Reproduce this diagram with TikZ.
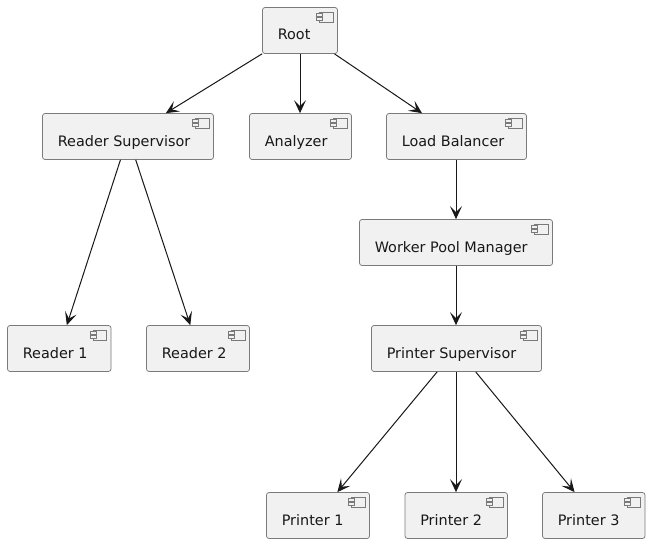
\documentclass[tikz,border=0pt]{standalone}
\usepackage{fontspec}
\setmainfont{DejaVu Sans}
\usetikzlibrary{arrows.meta}
\definecolor{ink}{HTML}{181818}
\definecolor{edge}{HTML}{7A7A7A}
\definecolor{boxfill}{HTML}{F1F1F1}
\tikzset{
  x=1pt,y=-1pt,
  compbox/.style={draw=edge,line width=0.75pt,fill=boxfill,rounded corners=2.5pt,inner sep=0pt,
    text=ink,font=\fontsize{14.4}{16}\selectfont,text height=32.5pt,text depth=13.5pt},
  compicon/.style={draw=edge,line width=0.6pt,fill=boxfill},
  link/.style={draw=ink,line width=1pt,-{Stealth[length=13pt,width=12pt,inset=6pt]}}
}
\newcommand{\compnode}[5]{%
  \node[compbox] (#1) at (#2,#3) {\makebox[#4pt][l]{\hspace{15.3pt}#5}};
  \draw[compicon] ([shift={(-18.5,5)}]#1.north east) rectangle ++(13.5,10);
  \draw[compicon] ([shift={(-21.5,6.5)}]#1.north east) rectangle ++(6,3);
  \draw[compicon] ([shift={(-21.5,10.5)}]#1.north east) rectangle ++(6,3);
}
\begin{document}
\begin{tikzpicture}
\useasboundingbox (0,0) rectangle (650,543);
\fill[white] (0,0) rectangle (650,543);
\compnode{root}{300}{30.5}{75}{Root}
\compnode{rsup}{128}{136.5}{171}{Reader Supervisor}
\compnode{ana}{300.5}{136.5}{102}{Analyzer}
\compnode{lb}{456.5}{136.5}{140}{Load Balancer}
\compnode{wpm}{456}{242.5}{193}{Worker Pool Manager}
\compnode{psup}{456.5}{348.5}{170}{Printer Supervisor}
\compnode{r1}{59.25}{348.5}{103.5}{Reader 1}
\compnode{r2}{198}{348.5}{103}{Reader 2}
\compnode{p1}{318}{515.5}{103}{Printer 1}
\compnode{p2}{456.25}{515.5}{102.5}{Printer 2}
\compnode{p3}{593.75}{515.5}{102.5}{Printer 3}
\draw[link] (root) -- (rsup);
\draw[link] (root) -- (root |- ana.north);
\draw[link] (root) -- (lb);
\draw[link] (rsup) -- (r1);
\draw[link] (rsup) -- (r2);
\draw[link] (wpm |- lb.south) -- (wpm);
\draw[link] (wpm) -- (wpm |- psup.north);
\draw[link] (psup) -- (p1);
\draw[link] (wpm |- psup.south) -- (wpm |- p2.north);
\draw[link] (psup) -- (p3);
\end{tikzpicture}
\end{document}
